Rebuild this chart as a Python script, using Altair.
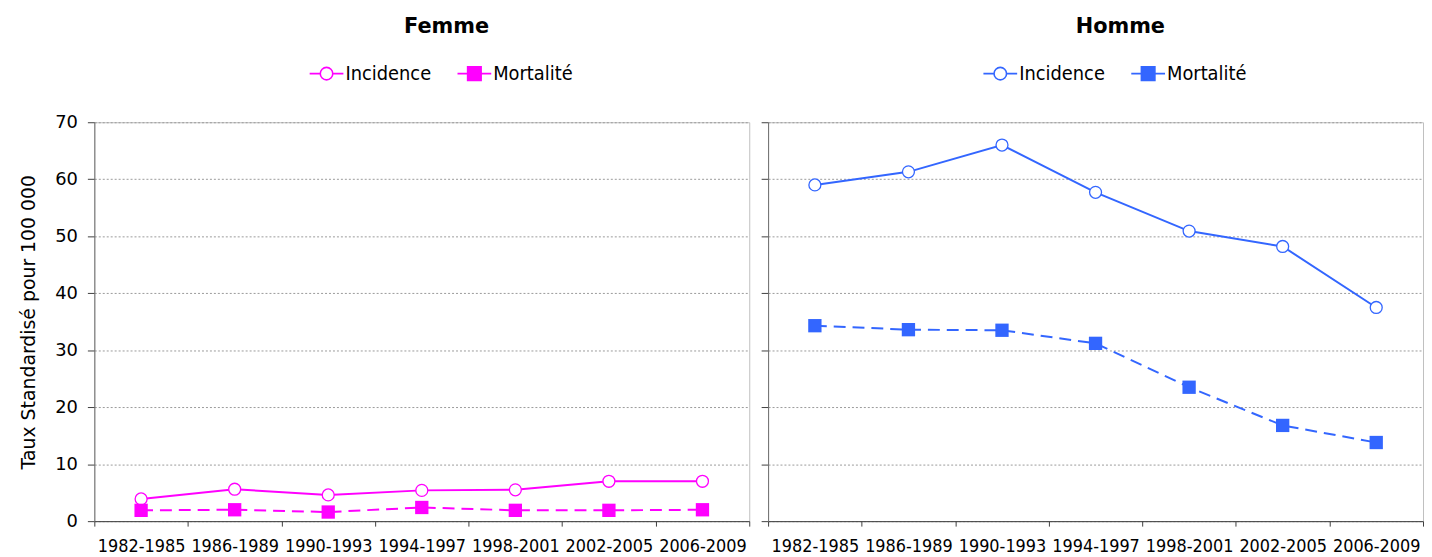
import altair as alt
import pandas as pd

periods = ["1982-1985", "1986-1989", "1990-1993", "1994-1997", "1998-2001", "2002-2005", "2006-2009"]
series = ["Incidence", "Mortalité"]
femme_incidence = [3.9, 5.6, 4.6, 5.4, 5.5, 7.0, 7.0]
femme_mortalite = [1.9, 2.0, 1.6, 2.4, 1.9, 1.9, 2.0]
homme_incidence = [59.0, 61.3, 66.0, 57.7, 50.9, 48.2, 37.5]
homme_mortalite = [34.3, 33.6, 33.5, 31.2, 23.5, 16.8, 13.8]
y_ticks = [0, 10, 20, 30, 40, 50, 60, 70]

MAGENTA = "#FF00FF"
BLUE = "#3366FF"

PATH_INC = ("M-1,0L-0.37,0M0.37,0L1,0"
            "M-0.37,0A0.37,0.37 0 1,0 0.37,0A0.37,0.37 0 1,0 -0.37,0Z")
PATH_MORT = ("M-1,0L-0.4,0M0.4,0L1,0"
             "M-0.4,-0.4L0.4,-0.4L0.4,0.4L-0.4,0.4Z")


def make_df(inc, mort):
    rows = []
    for p, v in zip(periods, inc):
        rows.append({"periode": p, "serie": "Incidence", "valeur": v})
    for p, v in zip(periods, mort):
        rows.append({"periode": p, "serie": "Mortalité", "valeur": v})
    return pd.DataFrame(rows)


def panel(df, color, title, first):
    x = alt.X(
        "periode:O", sort=periods,
        scale=alt.Scale(type="band", paddingInner=0, paddingOuter=0),
        axis=alt.Axis(title=None, labelAngle=0, tickBand="extent", grid=False,
                      labelFont="DejaVu Sans Condensed", labelFontSize=18,
                      labelColor="black", tickColor="#404040", tickSize=5,
                      domainColor="#404040", labelPadding=12),
    )
    yaxis = dict(values=y_ticks, grid=True, gridDash=[2, 2], gridColor="#9a9a9a",
                 tickColor="#404040", tickSize=7, domainColor="#707070",
                 labelFont="DejaVu Sans", labelFontSize=18, labelColor="black",
                 labelPadding=10)
    if first:
        yaxis.update(title="Taux Standardisé pour 100 000", titleFont="DejaVu Sans",
                     titleFontSize=19, titleFontWeight="normal", titleColor="black",
                     titlePadding=16)
    else:
        yaxis.update(title=None, labels=False)
    y = alt.Y("valeur:Q", scale=alt.Scale(domain=[0, 70], nice=False),
              axis=alt.Axis(**yaxis))

    base = alt.Chart(df).encode(x=x, y=y)
    inc = base.transform_filter(alt.datum.serie == "Incidence")
    mort = base.transform_filter(alt.datum.serie == "Mortalité")

    line_inc = inc.mark_line(color=color, strokeWidth=2)
    line_mort = mort.mark_line(color=color, strokeWidth=2, strokeDash=[12, 7])
    pts_inc = inc.mark_point(shape="circle", size=145, filled=True, fill="white",
                             stroke=color, strokeWidth=1.3, opacity=1)
    pts_mort = mort.mark_square(size=180, color=color, opacity=1)

    leg = alt.Legend(orient="none", legendX=216, legendY=-67, direction="horizontal",
                     title=None, labelFont="DejaVu Sans Condensed", labelFontSize=20,
                     labelColor="black", symbolSize=1156, symbolStrokeWidth=1.6,
                     columnPadding=22, labelOffset=1)
    legend_layer = base.transform_filter("false").mark_point(
        opacity=1, filled=False, strokeWidth=1.6
    ).encode(
        shape=alt.Shape("serie:N", scale=alt.Scale(domain=series, range=[PATH_INC, PATH_MORT]), legend=leg),
        color=alt.Color("serie:N", scale=alt.Scale(domain=series, range=[color, color]), legend=leg),
        fill=alt.Fill("serie:N", scale=alt.Scale(domain=series, range=["white", color]), legend=leg),
    )

    return alt.layer(line_inc, line_mort, pts_inc, pts_mort, legend_layer).properties(
        width=660, height=402,
        title=alt.TitleParams(text=title, font="DejaVu Sans", fontSize=21,
                              fontWeight="bold", color="black", anchor="middle",
                              dx=25, offset=19),
    )


left = panel(make_df(femme_incidence, femme_mortalite), MAGENTA, "Femme", True)
right = panel(make_df(homme_incidence, homme_mortalite), BLUE, "Homme", False)

chart = alt.hconcat(left, right, spacing=10).resolve_scale(
    color="independent", fill="independent", shape="independent"
).properties(
    padding={"left": 11, "top": 5, "right": 0, "bottom": 0}
).configure_view(stroke="#BFBFBF", strokeWidth=1)

chart.save("out.html", embed_options={"renderer": "svg", "actions": False})
